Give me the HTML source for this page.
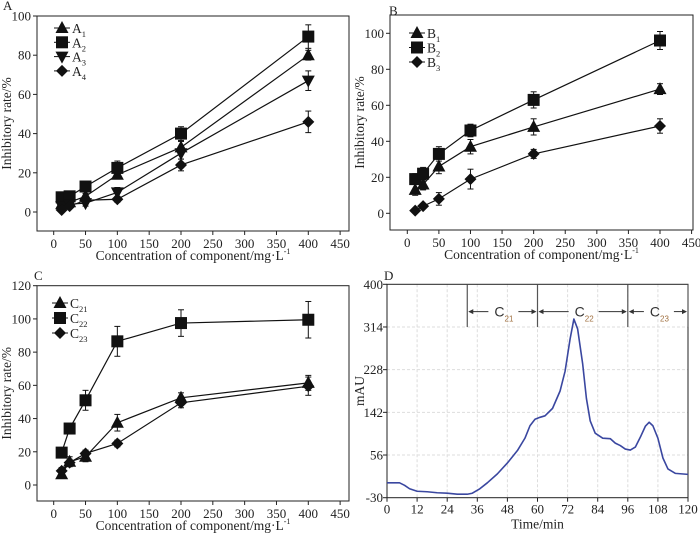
<!DOCTYPE html>
<html><head><meta charset="utf-8"><style>
body{margin:0;background:#fff;}
svg{display:block;font-family:"Liberation Serif",serif;}
</style></head><body>
<svg id="fig" width="700" height="537" viewBox="0 0 700 537" xmlns="http://www.w3.org/2000/svg"></svg>
<script>
const conc = [12.5, 25, 50, 100, 200, 400];
const aNames = ["A1","A2","A3","A4"];
const aMarkers = ["tri","sq","dtri","dia"];
const a1 = [4, 5, 8, 19, 33, 80];
const a2 = [7.5, 8, 13, 22.5, 40, 89.5];
const a3 = [3, 4, 4.5, 10, 30, 67];
const a4 = [1, 3, 6, 6.5, 24, 46];
const a1Err = [1.5, 1.5, 1.5, 2, 3, 2.5];
const a2Err = [2, 2, 1.5, 3.5, 3.5, 6];
const a3Err = [1.5, 1.5, 1.5, 2.5, 3, 5];
const a4Err = [1, 1, 1.5, 1.5, 3, 5.5];
const bNames = ["B1","B2","B3"];
const bMarkers = ["tri","sq","dia"];
const b1 = [13, 16, 26, 37, 48, 69];
const b2 = [19, 22, 33, 46, 63, 96];
const b3 = [1.5, 4, 8, 19, 33, 48.5];
const b1Err = [3, 3, 4, 4, 4.5, 3];
const b2Err = [3, 3.5, 4, 3.5, 4.5, 5];
const b3Err = [1, 1, 3.5, 5.5, 2.5, 4];
const cNames = ["C21","C22","C23"];
const cMarkers = ["tri","sq","dia"];
const c21 = [6.5, 14, 17, 37.5, 52.5, 61.5];
const c22 = [19.5, 34, 51, 86.5, 97.5, 99.5];
const c23 = [8.5, 13.5, 19, 25, 49.5, 59.5];
const c21Err = [2, 3, 3, 5, 3, 4.5];
const c22Err = [2, 3, 6, 9, 8, 11];
const c23Err = [2, 2, 2, 2, 3, 5.5];
const xTicks = [0,50,100,150,200,250,300,350,400,450];
const dTime = [0,5,7,9,12,16,20,24,28,32,34,37,40,44,48,52,55,57,59,61,63,66,69,71,73,74.5,76,78,79.5,81,83,86,89,91,93,95,97,99,101,103,104.5,106,108,110,112,115,120];
const dSignal = [0,0,-5,-12,-17,-18,-20,-21,-23,-23,-21,-12,0,18,40,65,90,115,128,132,135,150,185,225,290,330,310,240,170,125,100,90,89,80,75,68,66,72,92,114,122,115,90,50,28,19,17];
const dXTicks = [0,12,24,36,48,60,72,84,96,108,120];
const dYTicks = [-30,56,142,228,314,400];
const fracBounds = [32,60,96,120];
const fracLabels = ["21","22","23"];

const NS="http://www.w3.org/2000/svg";
const svg=document.getElementById('fig');
function el(tag,attrs,parent){const e=document.createElementNS(NS,tag);for(const k in attrs)e.setAttribute(k,attrs[k]);(parent||svg).appendChild(e);return e;}

function marker(g,type,x,y){
  let e;
  if(type==="sq") e=el('rect',{x:x-6,y:y-6,width:12,height:12,fill:'#111'},g);
  else if(type==="tri") e=el('polygon',{points:`${x},${y-7} ${x+6.5},${y+5} ${x-6.5},${y+5}`,fill:'#111'},g);
  else if(type==="dtri") e=el('polygon',{points:`${x},${y+7} ${x+6.5},${y-5} ${x-6.5},${y-5}`,fill:'#111'},g);
  else e=el('polygon',{points:`${x},${y-6} ${x+6},${y} ${x},${y+6} ${x-6},${y}`,fill:'#111'},g);
  
  
}

function panel(cfg){
  const g=el('g',{});
  
  
  const X=v=>cfg.x0+(v-cfg.xv0)*(cfg.x1-cfg.x0)/(cfg.xv1-cfg.xv0);
  const Y=v=>cfg.y0+(v-cfg.yv0)*(cfg.y1-cfg.y0)/(cfg.yv1-cfg.yv0);
  const box=el('rect',{x:cfg.L,y:cfg.T,width:cfg.R-cfg.L,height:cfg.B-cfg.T,fill:'none',stroke:'#222','stroke-width':1},g);
  
  xTicks.forEach(t=>{const x=X(t);
    el('line',{x1:x,y1:cfg.B,x2:x,y2:cfg.B+4,stroke:'#222'},g);
    const tx=el('text',{x:x,y:cfg.B+17,'font-size':13,'text-anchor':'middle',fill:'#222'},g);tx.textContent=t;
    });
  cfg.yTicks.forEach(t=>{const y=Y(t);
    el('line',{x1:cfg.L-4,y1:y,x2:cfg.L,y2:y,stroke:'#222'},g);
    const tx=el('text',{x:cfg.L-6,y:y+4.5,'font-size':13,'text-anchor':'end',fill:'#222'},g);tx.textContent=t;
    });
  const xt=el('text',{x:(cfg.L+cfg.R)/2,y:cfg.B+29,'font-size':13.5,'text-anchor':'middle',fill:'#222'},g);
  xt.innerHTML='Concentration of component/mg·L<tspan dy="-6" font-size="8">-1</tspan>';
  
  const yt=el('text',{x:0,y:0,'font-size':13.5,'text-anchor':'middle',fill:'#222',transform:`translate(${cfg.L-26},${(cfg.T+cfg.B)/2}) rotate(-90)`},g);
  yt.textContent='Inhibitory rate/%';
  
  const pl=el('text',{x:cfg.lx,y:cfg.ly,'font-size':13,fill:'#222'},g);pl.textContent=cfg.letter;
  
  cfg.series.forEach((s,i)=>{
    const sg=el('g',{},g);
    
    
    el('polyline',{points:conc.map((c,j)=>X(c)+','+Y(s[j])).join(' '),fill:'none',stroke:'#111','stroke-width':1.2},sg);
    conc.forEach((c,j)=>{const x=X(c),e=cfg.errs[i][j];
      el('line',{x1:x,y1:Y(s[j]-e),x2:x,y2:Y(s[j]+e),stroke:'#111'},sg);
      el('line',{x1:x-3,y1:Y(s[j]+e),x2:x+3,y2:Y(s[j]+e),stroke:'#111'},sg);
      el('line',{x1:x-3,y1:Y(s[j]-e),x2:x+3,y2:Y(s[j]-e),stroke:'#111'},sg);
      marker(sg,cfg.markers[i],x,Y(s[j]));});
    const ly=cfg.legY+i*cfg.legDy;
    const lg=el('g',{},g);
    
    el('line',{x1:cfg.legX-8,y1:ly,x2:cfg.legX+8,y2:ly,stroke:'#111'},lg);
    marker(lg,cfg.markers[i],cfg.legX,ly);
    const lt=el('text',{x:cfg.legX+10,y:ly+5,'font-size':13.5,fill:'#222'},lg);
    const nm=cfg.names[i];
    lt.innerHTML=nm[0]+'<tspan dy="4" font-size="8.5">'+nm.slice(1)+'</tspan>';
  });
}

panel({name:'panel-a',letter:'A',lx:3,ly:10,L:37,R:349,T:16,B:231,x0:53.7,x1:308.3,xv0:0,xv1:400,y0:212,y1:16,yv0:0,yv1:100,
  yTicks:[0,20,40,60,80,100],series:[a1,a2,a3,a4],errs:[a1Err,a2Err,a3Err,a4Err],names:aNames,markers:aMarkers,legX:62,legY:28,legDy:14.3});
panel({name:'panel-b',letter:'B',lx:389,ly:15,L:390,R:693,T:15,B:230,x0:407.3,x1:660,xv0:0,xv1:400,y0:213.3,y1:33.3,yv0:0,yv1:100,
  yTicks:[0,20,40,60,80,100],series:[b1,b2,b3],errs:[b1Err,b2Err,b3Err],names:bNames,markers:bMarkers,legX:417,legY:33,legDy:14.5});
panel({name:'panel-c',letter:'C',lx:34,ly:280,L:37,R:349,T:285.7,B:501,x0:53.7,x1:308.3,xv0:0,xv1:400,y0:485,y1:285.7,yv0:0,yv1:120,
  yTicks:[0,20,40,60,80,100,120],series:[c21,c22,c23],errs:[c21Err,c22Err,c23Err],names:cNames,markers:cMarkers,legX:60,legY:303,legDy:15});

// Panel D
(function(){
  const g=el('g',{});
  
  const L=387,R=688,T=284.3,B=497.7;
  const X=v=>L+v*(R-L)/120, Y=v=>B-(v+30)*(B-T)/430;
  dXTicks.forEach(t=>{const x=X(t);
    if(t>0&&t<120) el('line',{x1:x,y1:T,x2:x,y2:B,stroke:'#ddd','stroke-dasharray':'3,2'},g);
    el('line',{x1:x,y1:B,x2:x,y2:B+4,stroke:'#222'},g);
    const tx=el('text',{x:x,y:B+16,'font-size':13,'text-anchor':'middle',fill:'#222'},g);tx.textContent=t;
    });
  dYTicks.forEach(t=>{const y=Y(t);
    if(t>-30&&t<400) el('line',{x1:L,y1:y,x2:R,y2:y,stroke:'#ddd','stroke-dasharray':'3,2'},g);
    el('line',{x1:L-4,y1:y,x2:L,y2:y,stroke:'#222'},g);
    const tx=el('text',{x:L-4,y:y+4.5,'font-size':13,'text-anchor':'end',fill:'#222'},g);tx.textContent=t;
    });
  const box=el('rect',{x:L,y:T,width:R-L,height:B-T,fill:'none',stroke:'#222'},g);
  
  const xt=el('text',{x:(L+R)/2,y:B+31,'font-size':13.5,'text-anchor':'middle',fill:'#222'},g);xt.textContent='Time/min';
  
  const yt=el('text',{x:0,y:0,'font-size':13.5,'text-anchor':'middle',fill:'#222',transform:`translate(364,${(T+B)/2}) rotate(-90)`},g);yt.textContent='mAU';
  
  const pl=el('text',{x:384,y:280,'font-size':13,fill:'#222'},g);pl.textContent='D';
  
  fracBounds.forEach(t=>{el('line',{x1:X(t),y1:T,x2:X(t),y2:Y(314),stroke:'#555','stroke-width':1.2},g);});
  for(let i=0;i<3;i++){
    const xa=X(fracBounds[i]),xb=X(fracBounds[i+1]),ym=Y(345),xm=(xa+xb)/2;
    const fg=el('g',{},g);
    
    el('line',{x1:xa+2,y1:ym,x2:xm-14,y2:ym,stroke:'#333'},fg);
    el('line',{x1:xm+16,y1:ym,x2:xb-2,y2:ym,stroke:'#333'},fg);
    el('polygon',{points:`${xa+1},${ym} ${xa+6},${ym-2.5} ${xa+6},${ym+2.5}`,fill:'#333'},fg);
    el('polygon',{points:`${xb-1},${ym} ${xb-6},${ym-2.5} ${xb-6},${ym+2.5}`,fill:'#333'},fg);
    const tx=el('text',{x:xm-8,y:ym+5,'font-size':14,fill:'#333','font-family':'Liberation Sans, sans-serif'},fg);
    tx.innerHTML='C<tspan dy="5" font-size="8" fill="#a07040">'+fracLabels[i]+'</tspan>';
  }
  const line=el('polyline',{points:dTime.map((t,i)=>X(t)+','+Y(dSignal[i])).join(' '),fill:'none',stroke:'#3a47a0','stroke-width':1.6,'stroke-linejoin':'round'},g);
  
})();
</script>
</body></html>
